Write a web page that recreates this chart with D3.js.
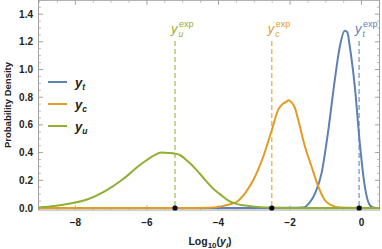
<!DOCTYPE html>
<html>
<head>
<meta charset="utf-8">
<script src="https://cdn.jsdelivr.net/npm/d3@7"></script>
<style>
  body { margin: 0; background: #fff; }
  text { font-family: "Liberation Sans", Arial, sans-serif; }
</style>
</head>
<body>
<div id="chart"></div>
<script>
// series: x = log10(y_i), density values
const seriesNames = ["t", "c", "u"];
const seriesColors = ["#5E81B5", "#E19C24", "#8FB032"];

const tX = [-9.03, -2.5, -2.0, -1.7, -1.58, -1.45, -1.30, -1.12, -0.93, -0.75, -0.61, -0.47, -0.40, -0.33, -0.19, -0.05, 0.09, 0.23, 0.35, 0.5];
const tY = [0, 0, 0.001, 0.003, 0.008, 0.04, 0.106, 0.25, 0.563, 0.924, 1.165, 1.28, 1.27, 1.165, 0.876, 0.467, 0.154, 0.02, 0.002, 0];

const cX = [-9.03, -5, -4.3, -3.96, -3.7, -3.49, -3.25, -3.03, -2.75, -2.51, -2.33, -2.19, -2.12, -2.03, -1.95, -1.86, -1.77, -1.58, -1.40, -1.21, -1.03, -0.85, -0.6, 0.5];
const cY = [0, 0, 0.002, 0.01, 0.025, 0.045, 0.11, 0.20, 0.37, 0.563, 0.71, 0.755, 0.765, 0.778, 0.76, 0.72, 0.635, 0.44, 0.30, 0.154, 0.058, 0.02, 0.003, 0];

const uX = [-9.03, -8.58, -8.11, -7.65, -7.18, -6.71, -6.47, -6.25, -6.01, -5.8, -5.59, -5.4, -5.2, -5.08, -4.85, -4.61, -4.38, -4.15, -3.96, -3.7, -3.5, -3.25, -3.0, -2.5, -2.0, 0.5];
const uY = [0.004, 0.014, 0.034, 0.063, 0.12, 0.20, 0.25, 0.30, 0.345, 0.38, 0.40, 0.398, 0.392, 0.383, 0.335, 0.274, 0.205, 0.14, 0.10, 0.05, 0.03, 0.018, 0.01, 0.003, 0, 0];

// experimental values (vertical dashed lines)
const expValues = [-0.07, -2.51, -5.215];

const xTicks = [-8, -6, -4, -2, 0];
const yTicks = [0, 0.2, 0.4, 0.6, 0.8, 1.0, 1.2, 1.4];

const width = 382;
const height = 249;

const x = d3.scaleLinear().domain([-9.03, 0.5]).range([38.5, 379.5]);
const y = d3.scaleLinear().domain([-0.0144, 1.5]).range([210, 0.3]);

const svg = d3.select("#chart")
    .append("svg")
    .attr("width", width)
    .attr("height", height);

// frame
svg.append("rect")
    .attr("x", x.range()[0])
    .attr("y", y.range()[1])
    .attr("width", x.range()[1] - x.range()[0])
    .attr("height", y.range()[0] - y.range()[1])
    .attr("fill", "none")
    .attr("stroke", "#a0a0a0")
    .attr("stroke-width", 1);

// ticks pointing inward on all four sides
const xMinor = d3.range(-9, 0.51, 0.5);
const yMinor = d3.range(0, 1.5, 0.05);
const tickColor = "#a0a0a0";

function drawTicks(vals, len, isMajor) {
    const g = svg.append("g").attr("stroke", tickColor).attr("stroke-width", isMajor ? 1 : 0.7);
    vals.forEach(v => {
        const xx = x(v);
        g.append("line").attr("x1", xx).attr("x2", xx).attr("y1", y.range()[0]).attr("y2", y.range()[0] - len);
        g.append("line").attr("x1", xx).attr("x2", xx).attr("y1", y.range()[1]).attr("y2", y.range()[1] + len);
    });
}
function drawYTicks(vals, len, isMajor) {
    const g = svg.append("g").attr("stroke", tickColor).attr("stroke-width", isMajor ? 1 : 0.7);
    vals.forEach(v => {
        const yy = y(v);
        g.append("line").attr("y1", yy).attr("y2", yy).attr("x1", x.range()[0]).attr("x2", x.range()[0] + len);
        g.append("line").attr("y1", yy).attr("y2", yy).attr("x1", x.range()[1]).attr("x2", x.range()[1] - len);
    });
}
drawTicks(xMinor.filter(v => !xTicks.includes(v)), 2.5, false);
drawTicks(xTicks, 4.5, true);
drawYTicks(yMinor.filter(v => !yTicks.some(t => Math.abs(t - v) < 1e-6)), 2.5, false);
drawYTicks(yTicks, 4.5, true);

// tick labels
svg.append("g").selectAll("text")
    .data(xTicks)
    .enter()
    .append("text")
    .attr("x", d => x(d))
    .attr("y", 226)
    .attr("text-anchor", "middle")
    .attr("font-size", 10)
    .attr("font-weight", "bold")
    .attr("fill", "#222")
    .text(d => d === 0 ? "0" : "\u2212" + Math.abs(d));

svg.append("g").selectAll("text")
    .data(yTicks)
    .enter()
    .append("text")
    .attr("x", 33)
    .attr("y", d => y(d) + 3.5)
    .attr("text-anchor", "end")
    .attr("font-size", 10)
    .attr("font-weight", "bold")
    .attr("fill", "#222")
    .text(d => d.toFixed(1));

// axis titles
const xt = svg.append("text")
    .attr("x", 210)
    .attr("y", 245)
    .attr("text-anchor", "middle")
    .attr("font-size", 10.5)
    .attr("font-weight", "bold")
    .attr("fill", "#222");
xt.append("tspan").text("Log");
xt.append("tspan").attr("font-size", 8).attr("dy", 2.5).text("10");
xt.append("tspan").attr("dy", -2.5).text("(");
xt.append("tspan").attr("font-style", "italic").text("y");
xt.append("tspan").attr("font-style", "italic").attr("font-size", 8).attr("dy", 2.5).text("i");
xt.append("tspan").attr("dy", -2.5).text(")");

svg.append("text")
    .attr("transform", "translate(11,105) rotate(-90)")
    .attr("text-anchor", "middle")
    .attr("font-size", 9.5)
    .attr("font-weight", "bold")
    .attr("fill", "#222")
    .text("Probability Density");

// curves
const series = [
    { name: "t", xs: tX, ys: tY },
    { name: "c", xs: cX, ys: cY },
    { name: "u", xs: uX, ys: uY }
].map((s, i) => ({ ...s, color: seriesColors[i], exp: expValues[i], pts: s.xs.map((v, j) => [v, s.ys[j]]) }));

const line = d3.line()
    .x(d => x(d[0]))
    .y(d => y(d[1]))
    .curve(d3.curveMonotoneX);

const plot = svg.append("g");

// dashed lines for experimental values
series.forEach(s => {
    plot.append("line")
        .attr("x1", x(s.exp)).attr("x2", x(s.exp))
        .attr("y1", 41).attr("y2", y(0))
        .attr("stroke", s.color)
        .attr("stroke-opacity", 0.8)
        .attr("stroke-width", 1.3)
        .attr("stroke-dasharray", "5,3");
});

series.forEach(s => {
    plot.append("path")
        .attr("d", line(s.pts))
        .attr("fill", "none")
        .attr("stroke", s.color)
        .attr("stroke-width", 2);
});

// black dots at experimental values
plot.selectAll(".dot")
    .data(series)
    .enter()
    .append("circle")
    .attr("class", "dot")
    .attr("cx", d => x(d.exp))
    .attr("cy", y(0))
    .attr("r", 2.6)
    .attr("fill", "#000");

// labels for experimental lines
series.forEach(s => {
    const lx = x(s.exp) - 4;
    const g = svg.append("g").attr("fill", s.color);
    g.append("text").attr("x", lx).attr("y", 33).attr("font-size", 13).attr("font-style", "italic").text("y");
    g.append("text").attr("x", lx + 7.5).attr("y", 37).attr("font-size", 8.5).attr("font-style", "italic").text(s.name);
    g.append("text").attr("x", lx + 8).attr("y", 26.5).attr("font-size", 9).text("exp");
});

// legend
const legendY = [82, 104, 126];
series.forEach((s, i) => {
    const ly = legendY[i];
    svg.append("line")
        .attr("x1", 48).attr("x2", 67)
        .attr("y1", ly).attr("y2", ly)
        .attr("stroke", s.color)
        .attr("stroke-width", 2);
    const t = svg.append("text")
        .attr("x", 75)
        .attr("y", ly + 5)
        .attr("font-size", 13)
        .attr("font-weight", "bold")
        .attr("font-style", "italic")
        .attr("fill", "#222");
    t.append("tspan").text("y");
    t.append("tspan").attr("font-size", 8.5).attr("dy", 3).text(s.name);
});
</script>
</body>
</html>
